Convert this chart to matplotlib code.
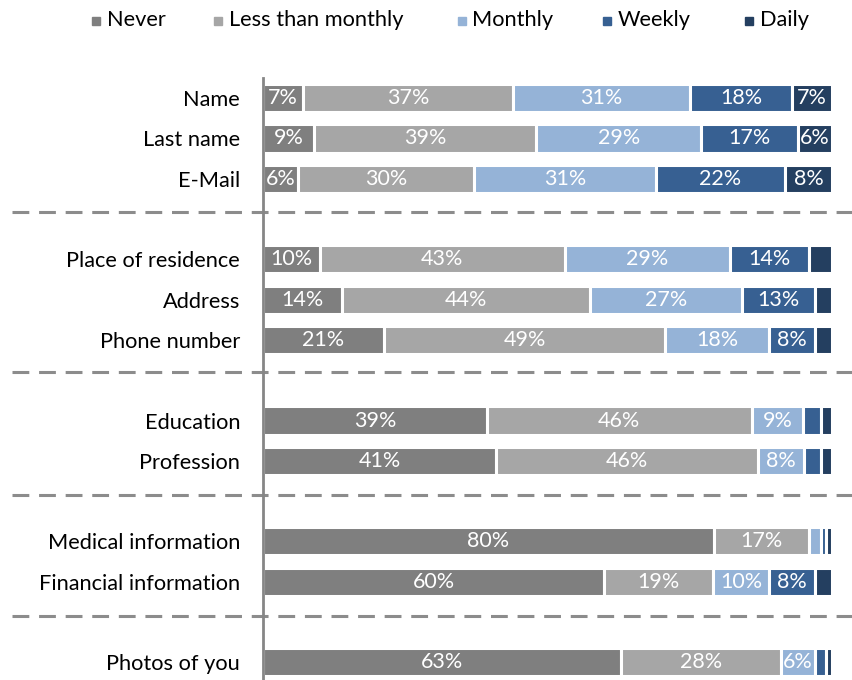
import matplotlib
matplotlib.use("Agg")
import matplotlib.pyplot as plt
import matplotlib.transforms as mtransforms
import numpy as np
from matplotlib.patches import Rectangle

plt.rcParams['font.family'] = ['Lato', 'DejaVu Sans']

# ---- data ----
categories = ["Name", "Last name", "E-Mail",
              "Place of residence", "Address", "Phone number",
              "Education", "Profession",
              "Medical information", "Financial information",
              "Photos of you"]
slots = [0, 1, 2, 4, 5, 6, 8, 9, 11, 12, 14]
series = ["Never", "Less than monthly", "Monthly", "Weekly", "Daily"]
never        = [7, 9, 6, 10, 14, 21, 39, 41, 80, 60, 63]
less_monthly = [37, 39, 30, 43, 44, 49, 46, 46, 17, 19, 28]
monthly      = [31, 29, 31, 29, 27, 18, 9, 8, 2, 10, 6]
weekly       = [18, 17, 22, 14, 13, 8, 3, 3, 1, 8, 2]
daily        = [7, 6, 8, 4, 3, 3, 2, 2, 1, 3, 1]
separators = [2.82, 6.8, 9.86, 12.86]

colors = ["#7f7f7f", "#a6a6a6", "#95b3d7", "#376092", "#243f60"]

W, H = 852, 680
fig = plt.figure(figsize=(W / 100, H / 100), dpi=100)
ax_left, ax_right, ax_top, ax_bot = 263, 832, 78, 680
ax = fig.add_axes([ax_left / W, 1 - ax_bot / H, (ax_right - ax_left) / W,
                   (ax_bot - ax_top) / H])

vals = np.array([never, less_monthly, monthly, weekly, daily], dtype=float)
totals = vals.sum(axis=0)
shares = vals / totals * 100

left = np.zeros(len(categories))
for i, name in enumerate(series):
    bars = ax.barh(slots, shares[i], left=left, height=0.70, color=colors[i],
                   edgecolor="white", linewidth=2.2, label=name, zorder=2)
    labels = [f"{int(v)}%" if v >= 5 else "" for v in vals[i]]
    ax.bar_label(bars, labels=labels, label_type="center", color="white",
                 fontsize=15.5, zorder=3)
    left += shares[i]

ax.set_xlim(0, 100)
ax.set_ylim(14.44, -0.5)
ax.set_yticks(slots)
ax.set_yticklabels(categories, fontsize=15.7, color="black")
ax.tick_params(axis="y", length=0, pad=16.5)
ax.set_xticks([])
for s in ["top", "right", "bottom"]:
    ax.spines[s].set_visible(False)
ax.spines["left"].set_color("#868686")
ax.spines["left"].set_linewidth(2.0)
ax.spines["left"].set_zorder(4)

# dashed group separators
trans = mtransforms.blended_transform_factory(ax.transAxes, ax.transData)
x0 = (12 - ax_left) / (ax_right - ax_left)
x1 = (852 - ax_left) / (ax_right - ax_left)
for yv in separators:
    ax.plot([x0, x1], [yv, yv], transform=trans, color="#8c8c8c", lw=2.2,
            dashes=(5.5, 3.2), clip_on=False, zorder=1)

# legend (manual)
leg_sq_x = [92, 214, 458, 603, 745]
leg_txt_x = [107, 229, 472, 618, 760]
for i, name in enumerate(series):
    fig.patches.append(Rectangle((leg_sq_x[i] / W, 1 - 25 / H), 8 / W, 8 / H,
                                 transform=fig.transFigure, color=colors[i]))
    fig.text(leg_txt_x[i] / W, 1 - 20 / H, name, fontsize=15.7, color="black",
             ha="left", va="center")

fig.savefig("out.png", dpi=100)
